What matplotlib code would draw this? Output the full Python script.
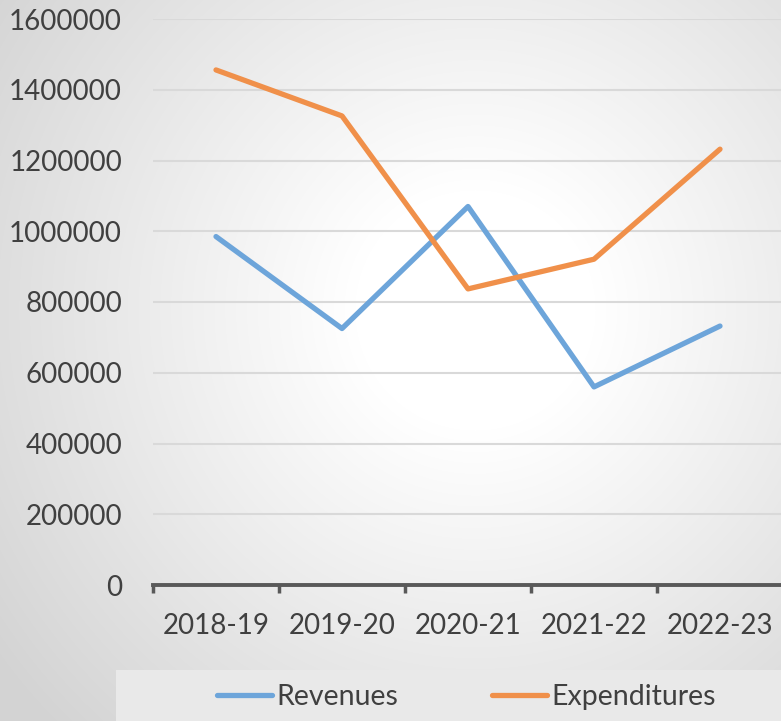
import numpy as np
import matplotlib
matplotlib.use("Agg")
import matplotlib.pyplot as plt
from matplotlib.patches import Rectangle

categories = ["2018-19", "2019-20", "2020-21", "2021-22", "2022-23"]
revenues = [985000, 725000, 1070000, 560000, 732000]
expenditures = [1456000, 1326000, 837000, 921000, 1232000]
yticks = [0, 200000, 400000, 600000, 800000, 1000000, 1200000, 1400000, 1600000]

W, H = 781, 721
fig = plt.figure(figsize=(W / 100, H / 100), dpi=100)
plt.rcParams['font.family'] = ['Lato', 'DejaVu Sans']

# radial gradient background
bg = fig.add_axes([0, 0, 1, 1], zorder=-10)
yy, xx = np.mgrid[0:H, 0:W]
cx, cy = 475, 310
r = np.sqrt((xx - cx) ** 2 + (yy - cy) ** 2)
t = np.clip((r - 120) / 470, 0, 1)
v = 1 - 0.17 * t
bg.imshow(np.dstack([v, v, v]), extent=[0, W, H, 0], aspect='auto')
bg.set_xlim(0, W)
bg.set_ylim(H, 0)
bg.axis('off')

# legend box
fig.patches.append(Rectangle((116 / W, 0), (W - 116) / W, 51 / H,
                             transform=fig.transFigure, facecolor='#E9E9E9',
                             edgecolor='none', zorder=-5))

left, right = 153, 783
top, bottom = 19, 585
ax = fig.add_axes([left / W, 1 - bottom / H, (right - left) / W, (bottom - top) / H])
ax.patch.set_alpha(0)
x = np.arange(len(categories))
ax.plot(x, revenues, color='#6DA5DA', lw=3.8, solid_capstyle='round',
        solid_joinstyle='round', label='Revenues', zorder=3)
ax.plot(x, expenditures, color='#F0904A', lw=3.8, solid_capstyle='round',
        solid_joinstyle='round', label='Expenditures', zorder=3)
ax.set_xlim(-0.5, len(categories) - 0.5)
ax.set_ylim(0, 1600000)
ax.set_yticks(yticks)
ax.set_yticklabels([str(v) for v in yticks])
ax.set_xticks(x)
ax.set_xticklabels(categories)
ax.set_xticks(np.arange(-0.5, len(categories)), minor=True)
ax.tick_params(axis='x', which='major', length=0, pad=20, labelsize=20, labelcolor='#404040')
ax.tick_params(axis='x', which='minor', length=6, width=2.5, color='#595959', direction='out')
ax.tick_params(axis='y', length=0, pad=22.3, labelsize=20, labelcolor='#404040')
ax.yaxis.grid(True, color='#D9D9D9', lw=1.5)
ax.set_axisbelow(True)
for s in ['top', 'right', 'left']:
    ax.spines[s].set_visible(False)
ax.spines['bottom'].set_color('#595959')
ax.spines['bottom'].set_linewidth(2.8)
ax.spines['bottom'].set_zorder(4)

fig.legend(*ax.get_legend_handles_labels(), loc='center', bbox_to_anchor=(466.5 / W, 1 - 697 / H),
           ncol=2, frameon=False, fontsize=20.5, handlelength=1.93, handletextpad=0.15,
           columnspacing=3.3, labelcolor='#404040')

fig.savefig('out.png', dpi=100)
